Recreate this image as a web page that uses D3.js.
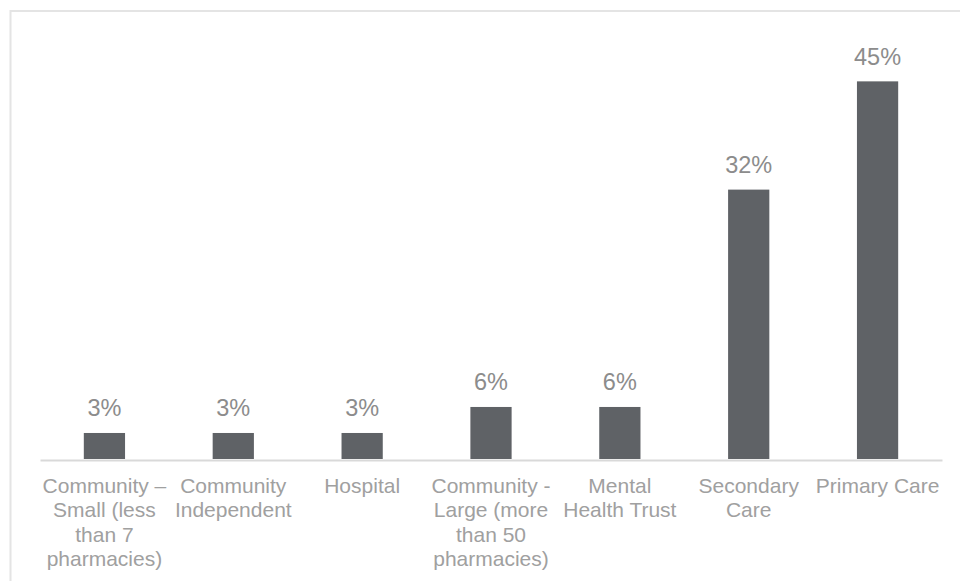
<!DOCTYPE html>
<html>
<head>
<meta charset="utf-8">
<script src="https://cdn.jsdelivr.net/npm/d3@7"></script>
<style>
  html, body { margin: 0; padding: 0; background: #fff; }
  svg { display: block; }
</style>
</head>
<body>
<svg id="chart" width="960" height="581"></svg>
<script>
const categories = [
  "Community – Small (less than 7 pharmacies)",
  "Community Independent",
  "Hospital",
  "Community - Large (more than 50 pharmacies)",
  "Mental Health Trust",
  "Secondary Care",
  "Primary Care"
];
const categoryLines = [
  ["Community –", "Small (less", "than 7", "pharmacies)"],
  ["Community", "Independent"],
  ["Hospital"],
  ["Community -", "Large (more", "than 50", "pharmacies)"],
  ["Mental", "Health Trust"],
  ["Secondary", "Care"],
  ["Primary Care"]
];
const values = [3.1, 3.1, 3.1, 6.2, 6.2, 32.1, 45.0];
const valueLabels = ["3%", "3%", "3%", "6%", "6%", "32%", "45%"];

const svg = d3.select("#chart");
const font = "'Liberation Sans', Arial, sans-serif";

// outer chart border
svg.append("rect")
  .attr("x", 10.5).attr("y", 11)
  .attr("width", 1000).attr("height", 1000)
  .attr("fill", "none")
  .attr("stroke", "#e4e4e4")
  .attr("stroke-width", 2);

const x = d3.scaleBand()
  .domain(categories)
  .range([40, 942])
  .paddingInner(0.68)
  .paddingOuter(0.34);

const y = d3.scaleLinear()
  .domain([0, 50])
  .range([459, 39.4]);

// bars
svg.append("g").selectAll("rect")
  .data(categories)
  .join("rect")
  .attr("x", d => x(d))
  .attr("width", x.bandwidth())
  .attr("y", (d, i) => y(values[i]))
  .attr("height", (d, i) => y(0) - y(values[i]))
  .attr("fill", "#5f6266");

// axis
const axis = svg.append("g")
  .attr("transform", `translate(0,${y(0) + 1})`)
  .call(d3.axisBottom(x).tickSize(0).tickFormat(""));
axis.select(".domain").attr("stroke", "#d9d9d9").attr("stroke-width", 2);

// category labels
const lab = svg.append("g").selectAll("text")
  .data(categories)
  .join("text")
  .attr("x", d => x(d) + x.bandwidth() / 2)
  .attr("y", 493)
  .attr("text-anchor", "middle")
  .attr("font-family", font)
  .attr("font-size", 21)
  .attr("fill", "#a0a0a0");
lab.each(function(d, i) {
  const t = d3.select(this);
  categoryLines[i].forEach((line, j) => {
    t.append("tspan")
      .attr("x", x(d) + x.bandwidth() / 2)
      .attr("y", 493 + j * 24.3)
      .text(line);
  });
});

// value labels
svg.append("g").selectAll("text")
  .data(categories)
  .join("text")
  .attr("x", d => x(d) + x.bandwidth() / 2)
  .attr("y", (d, i) => y(values[i]) - 16.5)
  .attr("text-anchor", "middle")
  .attr("font-family", font)
  .attr("font-size", 23.5)
  .attr("fill", "#8c8c8c")
  .text((d, i) => valueLabels[i]);
</script>
</body>
</html>
